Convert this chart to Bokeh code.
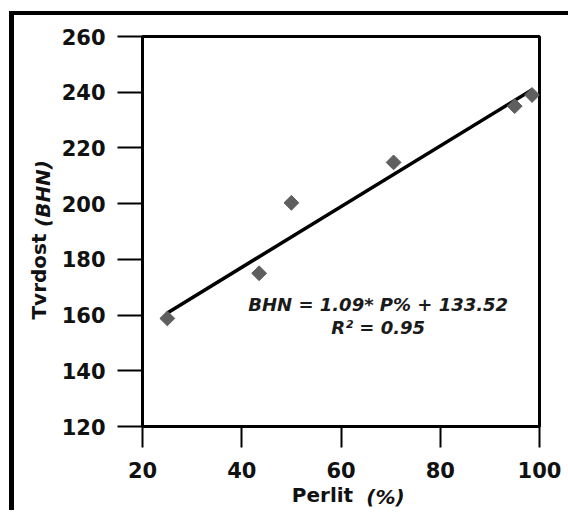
import numpy as np
from bokeh.plotting import figure
from bokeh.models import Label, FixedTicker, Range1d, ColumnDataSource
from bokeh.layouts import column
from bokeh.embed import file_html
from bokeh.resources import INLINE

# data
perlit = [25, 43.5, 50, 70.6, 95, 98.5]
bhn = [158.8, 175, 200.3, 214.8, 235, 239]
slope = 1.09
intercept = 133.52
x_ticks = [20, 40, 60, 80, 100]
y_ticks = [120, 140, 160, 180, 200, 220, 240, 260]
eq_text = "BHN = 1.09* P% + 133.52"
r2_text = "R\u00b2 = 0.95"

FONT = "DejaVu Sans"

p = figure(width=554, height=498, output_backend="svg", toolbar_location=None,
           x_range=Range1d(20, 100), y_range=Range1d(120, 260),
           min_border_left=128, min_border_right=29, min_border_top=21, min_border_bottom=84)
p.grid.visible = False
p.outline_line_color = "black"
p.outline_line_width = 3
p.background_fill_color = "white"
p.border_fill_color = None
p.styles = {"margin-top": "-3px"}

for ax in (p.xaxis, p.yaxis):
    ax.axis_line_color = None
    ax.major_tick_line_color = "black"
    ax.major_tick_line_width = 2
    ax.minor_tick_line_color = None
    ax.major_tick_in = 0
    ax.major_label_text_font = FONT
    ax.major_label_text_font_style = "bold"
    ax.major_label_text_font_size = "21px"
    ax.major_label_text_color = "#111111"
p.xaxis.ticker = FixedTicker(ticks=x_ticks)
p.yaxis.ticker = FixedTicker(ticks=y_ticks)
p.xaxis.major_tick_out = 21
p.yaxis.major_tick_out = 25
p.xaxis.major_label_standoff = 14
p.yaxis.major_label_standoff = 12

# regression line
xl = np.array([min(perlit), max(perlit)])
p.line(xl, slope * xl + intercept, line_color="black", line_width=3.5)

src = ColumnDataSource(dict(x=perlit, y=bhn))
p.scatter("x", "y", source=src, marker="square", angle=np.pi / 4, size=10.5,
          fill_color="#5f5f5f", line_color="#5f5f5f")

# equation text
p.add_layout(Label(x=67.5, y=163.8, text=eq_text, text_align="center", text_baseline="middle",
                   text_font=FONT, text_font_style="bold italic", text_font_size="18px",
                   text_color="#1a1a1a"))
p.add_layout(Label(x=67.5, y=155.6, text=r2_text, text_align="center", text_baseline="middle",
                   text_font=FONT, text_font_style="bold italic", text_font_size="18px",
                   text_color="#1a1a1a"))

# axis labels (mixed styles), one per side panel so the frame keeps its size
p.add_layout(Label(x=4, y=150, x_units="screen", y_units="screen", text="Tvrdost",
                   angle=np.pi / 2, text_align="center",
                   text_baseline="middle", text_font=FONT, text_font_style="bold",
                   text_font_size="20px", text_color="#111111"), "left")
p.add_layout(Label(x=-497, y=233, x_units="screen", y_units="screen", text="(BHN)",
                   angle=np.pi / 2, text_align="center",
                   text_baseline="middle", text_font=FONT, text_font_style="bold italic",
                   text_font_size="20px", text_color="#111111"), "right")
p.add_layout(Label(x=180, y=10, x_units="screen", y_units="screen", text="Perlit",
                   text_align="center",
                   text_baseline="middle", text_font=FONT, text_font_style="bold",
                   text_font_size="20px", text_color="#111111"), "below")
p.add_layout(Label(x=243, y=-460, x_units="screen", y_units="screen", text="(%)",
                   text_align="center",
                   text_baseline="middle", text_font=FONT, text_font_style="bold italic",
                   text_font_size="20px", text_color="#111111"), "above")

layout = column(p, styles={"border-left": "5px solid black", "border-top": "4px solid black",
                           "margin-top": "11px", "margin-left": "9px"})

open("out.html", "w").write(file_html(layout, INLINE))
